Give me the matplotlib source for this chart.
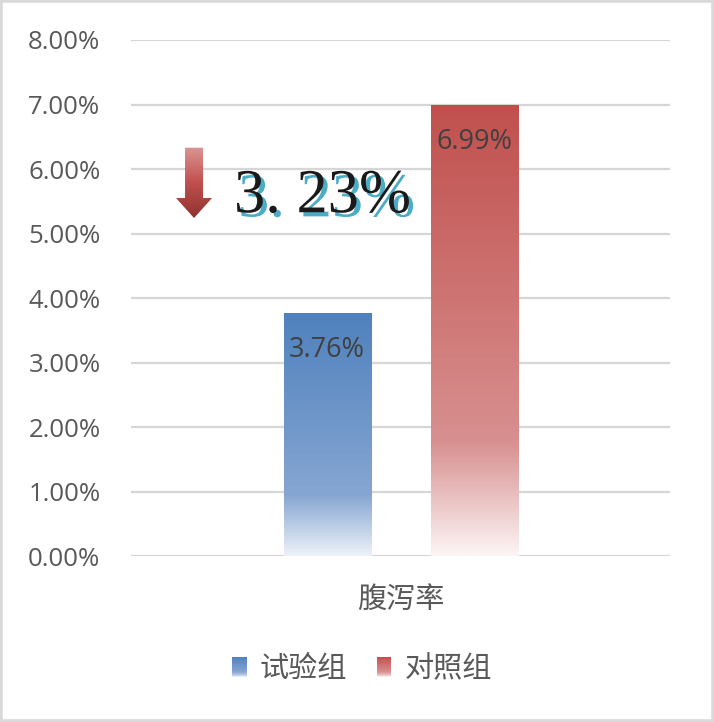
import numpy as np
import matplotlib
matplotlib.use('Agg')
from matplotlib import pyplot as plt
from matplotlib.colors import LinearSegmentedColormap
from matplotlib.patches import Rectangle, Polygon
from matplotlib.legend_handler import HandlerBase
import matplotlib.patheffects as pe

# data
groups = ['试验组', '对照组']
category = '腹泻率'
values = [3.76, 6.99]
yticks = [0, 1, 2, 3, 4, 5, 6, 7, 8]

plt.rcParams['font.family'] = ['Open Sans', 'Noto Sans CJK SC', 'DejaVu Sans']
CJK = ['Noto Sans CJK SC', 'DejaVu Sans']

# gradients, top -> bottom
cmaps = [
    LinearSegmentedColormap.from_list('blue', [(0, '#4F81BD'), (0.75, '#86A6D2'), (1, '#EEF2F9')]),
    LinearSegmentedColormap.from_list('red', [(0, '#C0504D'), (0.75, '#D89090'), (1, '#FCF5F5')]),
]
arrow_cmap = LinearSegmentedColormap.from_list('arrow', ['#DA9694', '#C0504D', '#8E3331'])


class GradHandler(HandlerBase):
    def __init__(self, cmap):
        super().__init__()
        self.cmap = cmap

    def create_artists(self, legend, orig_handle, xdescent, ydescent,
                       width, height, fontsize, trans):
        n = 24
        out = []
        for i in range(n):
            y = -ydescent + height * (1 - (i + 1) / n)
            r = Rectangle((-xdescent, y), width, height / n * 1.05,
                          facecolor=self.cmap((i + 0.5) / n), edgecolor='none',
                          transform=trans)
            out.append(r)
        return out


fig = plt.figure(figsize=(7.14, 7.22), dpi=100)
ax = fig.add_axes([0.1835, 0.2299, 0.755, 0.7147])

offsets = [-0.1364, 0.1364]
width = 0.1614
bars = ax.bar(offsets, values, width=width, color='none', zorder=2)

grad = np.linspace(0, 1, 256).reshape(-1, 1)
for b, cm, v in zip(bars, cmaps, values):
    x0 = b.get_x()
    ax.imshow(grad, extent=[x0, x0 + b.get_width(), 0, b.get_height()],
              aspect='auto', cmap=cm, zorder=2, interpolation='bilinear')
    ax.text(b.get_x() + b.get_width() / 2, v - 0.57, f'{v:.2f}%',
            ha='center', va='center', fontsize=19.5, color='#404040', zorder=3)

# drop annotation
diff = values[1] - values[0]
arrow = Polygon([(-0.3998, 6.33), (-0.3664, 6.33), (-0.3664, 5.55), (-0.3497, 5.55),
                 (-0.3831, 5.24), (-0.4165, 5.55), (-0.3998, 5.55)],
                closed=True, facecolor='none', edgecolor='none', zorder=3)
ax.add_patch(arrow)
im = ax.imshow(grad, extent=[-0.4165, -0.3497, 5.24, 6.33], aspect='auto',
               cmap=arrow_cmap, zorder=3, interpolation='bilinear')
im.set_clip_path(arrow)

ax.text(-0.309, 5.33, f'{diff:.2f}%'.replace('.', '. '), fontsize=45,
        family=['Liberation Serif', 'DejaVu Serif'], color='#1A1A1A',
        ha='left', va='baseline', zorder=4,
        path_effects=[pe.withSimplePatchShadow(offset=(3, -3), shadow_rgbFace='#4BACC6', alpha=1.0)])

ax.set_xlim(-0.5, 0.5)
ax.set_ylim(0, 8)
ax.set_yticks(yticks)
ax.set_yticklabels([f'{v:.2f}%' for v in yticks])
ax.set_xticks([0])
ax.set_xticklabels([category], family=CJK, fontsize=21)
ax.tick_params(axis='y', length=0, pad=22, labelsize=18.5, labelcolor='#595959')
ax.tick_params(axis='x', length=0, pad=21, labelcolor='#595959')
for s in ax.spines.values():
    s.set_visible(False)
ax.grid(axis='y', color='#D6D6D6', linewidth=1.6, zorder=0)
ax.set_axisbelow(True)

proxies = [Rectangle((0, 0), 1, 1, label=g) for g in groups]
fig.legend(handles=proxies, labels=groups, loc='center', bbox_to_anchor=(0.507, 0.073),
           ncol=2, frameon=False, prop={'family': CJK, 'size': 21},
           labelcolor='#595959', handlelength=0.5, handleheight=0.7,
           handletextpad=0.45, columnspacing=1.0,
           handler_map={p: GradHandler(c) for p, c in zip(proxies, cmaps)})

fig.patches.append(Rectangle((0, 0), 1, 1, transform=fig.transFigure, fill=False,
                             edgecolor='#D9D9D9', linewidth=4))

fig.savefig('out.png', dpi=100)
